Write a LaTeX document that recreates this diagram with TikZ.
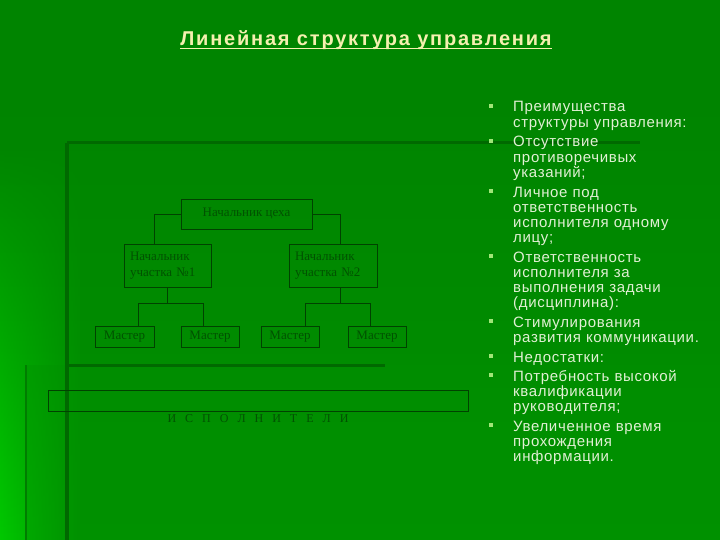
\documentclass[tikz,border=0pt]{standalone}
\usepackage{fontspec}
\setmainfont{Liberation Serif}
\newfontfamily\listfont[LetterSpace=4.5]{Liberation Sans}
\newfontfamily\titlefont[LetterSpace=9]{Liberation Sans}
\usetikzlibrary{positioning,fadings}
\definecolor{bgtop}{RGB}{0,132,0}
\definecolor{bgmid}{RGB}{0,145,0}
\definecolor{bgbright}{RGB}{0,200,0}
\definecolor{rulegreen}{RGB}{0,105,0}
\definecolor{chartline}{RGB}{0,66,0}
\definecolor{charttext}{RGB}{0,82,0}
\definecolor{listtext}{RGB}{225,240,212}
\definecolor{titletext}{RGB}{245,240,175}
\definecolor{bulletgreen}{RGB}{160,230,120}
\newcommand\widegaps{\spaceskip=9pt plus 0pt minus 0pt\relax}
\tikzstyle{box}=[draw=chartline,line width=.9pt,inner sep=0pt,text=charttext,
  font=\fontsize{13}{16}\selectfont]
\tikzstyle{wire}=[chartline,line width=.9pt]
\tikzstyle{item}=[anchor=base west,inner sep=0pt,text width=205pt,align=left,
  text=listtext,font=\listfont\fontsize{15}{15.3}\selectfont]
\tikzstyle{bullet}=[fill=bulletgreen,minimum size=3.5pt,inner sep=0pt]
\tikzstyle{ttl}=[anchor=base,inner sep=0pt,font=\titlefont\bfseries\fontsize{20}{22}\selectfont]

\begin{document}
\begin{tikzpicture}[x=1pt,y=-1pt]
  \useasboundingbox (0,0) rectangle (720,540);
  % background
  \fill[bgtop] (0,0) rectangle (720,540);
  \shade[top color=bgtop,bottom color=bgmid] (0,100) rectangle (720,540);
  \shade[left color=bgbright,right color=bgmid,path fading=north] (0,150) rectangle (80,540);
  \fill[bgmid,opacity=.35] (26,365) rectangle (720,540);
  \draw[rulegreen,line width=3pt] (67,143) -- (640,143);
  \draw[rulegreen,line width=4pt] (67,143) -- (67,540);
  \draw[rulegreen,line width=3pt] (67,365) -- (385,365);
  \draw[rulegreen!50!bgmid,line width=2pt] (26,365) -- (26,540);

  % title
  \node[ttl,text=titletext] (title) at (366,46) {Линейная структура управления};
  \draw[titletext,line width=1.3pt] ([yshift=-2.5pt]title.base west) -- ([yshift=-2.5pt]title.base east);

  % chart
  \node[box,minimum width=131pt,minimum height=30pt] (chief) at (246.5,214) {Начальник цеха};
  \node[box,minimum height=43pt,text width=75pt,inner xsep=6pt,align=left] (u1) at (167.5,265.5) {Начальник\\участка №1};
  \node[box,minimum height=43pt,text width=76pt,inner xsep=6pt,align=left] (u2) at (333,265.5) {Начальник\\участка №2};
  \node[box,minimum width=59pt,minimum height=21pt] (m1) at (124.5,336.5) {Мастер};
  \node[box,minimum width=58pt,minimum height=21pt] (m2) at (210,336.5) {Мастер};
  \node[box,minimum width=58pt,minimum height=21pt] (m3) at (290,336.5) {Мастер};
  \node[box,minimum width=58pt,minimum height=21pt] (m4) at (377,336.5) {Мастер};
  \node[box,minimum width=420pt,minimum height=21pt] (workers) at (258,400.5) {};
  \node[inner sep=0pt,text=charttext,font=\fontsize{12}{14}\selectfont] (workerslbl) at (258,419) {\widegaps И С П О Л Н И Т Е Л И};

  \coordinate (c1) at (154,214);
  \coordinate (c2) at (340,214);
  \coordinate (b1l) at (138,303);
  \coordinate (b1r) at (203,303);
  \coordinate (b2l) at (305,303);
  \coordinate (b2r) at (370,303);
  \draw[wire] (chief.west) -- (c1) -- (c1 |- u1.north);
  \draw[wire] (chief.east) -- (c2) -- (c2 |- u2.north);
  \draw[wire] (u1.south) -- (u1.south |- b1l);
  \draw[wire] (b1l |- m1.north) -- (b1l) -- (b1r) -- (b1r |- m2.north);
  \draw[wire] (c2 |- u2.south) -- (c2 |- b2l);
  \draw[wire] (b2l |- m3.north) -- (b2l) -- (b2r) -- (b2r |- m4.north);

  % list
  \node[item] (i1) at (513,112) {Преимущества\\структуры управления:};
  \node[item] (i2) at (513,147) {Отсутствие\\противоречивых\\указаний;};
  \node[item] (i3) at (513,197) {Личное под\\ответственность\\исполнителя одному\\лицу;};
  \node[item] (i4) at (513,262) {Ответственность\\исполнителя за\\выполнения задачи\\(дисциплина):};
  \node[item] (i5) at (513,327) {Стимулирования\\развития коммуникации.};
  \node[item] (i6) at (513,362) {Недостатки:};
  \node[item] (i7) at (513,381) {Потребность высокой\\квалификации\\руководителя;};
  \node[item] (i8) at (513,431) {Увеличенное время\\прохождения\\информации.};
  \foreach \i in {1,...,8}
    \node[bullet] (bul\i) at ([xshift=-22pt,yshift=6pt]i\i.base west) {};
\end{tikzpicture}
\end{document}
